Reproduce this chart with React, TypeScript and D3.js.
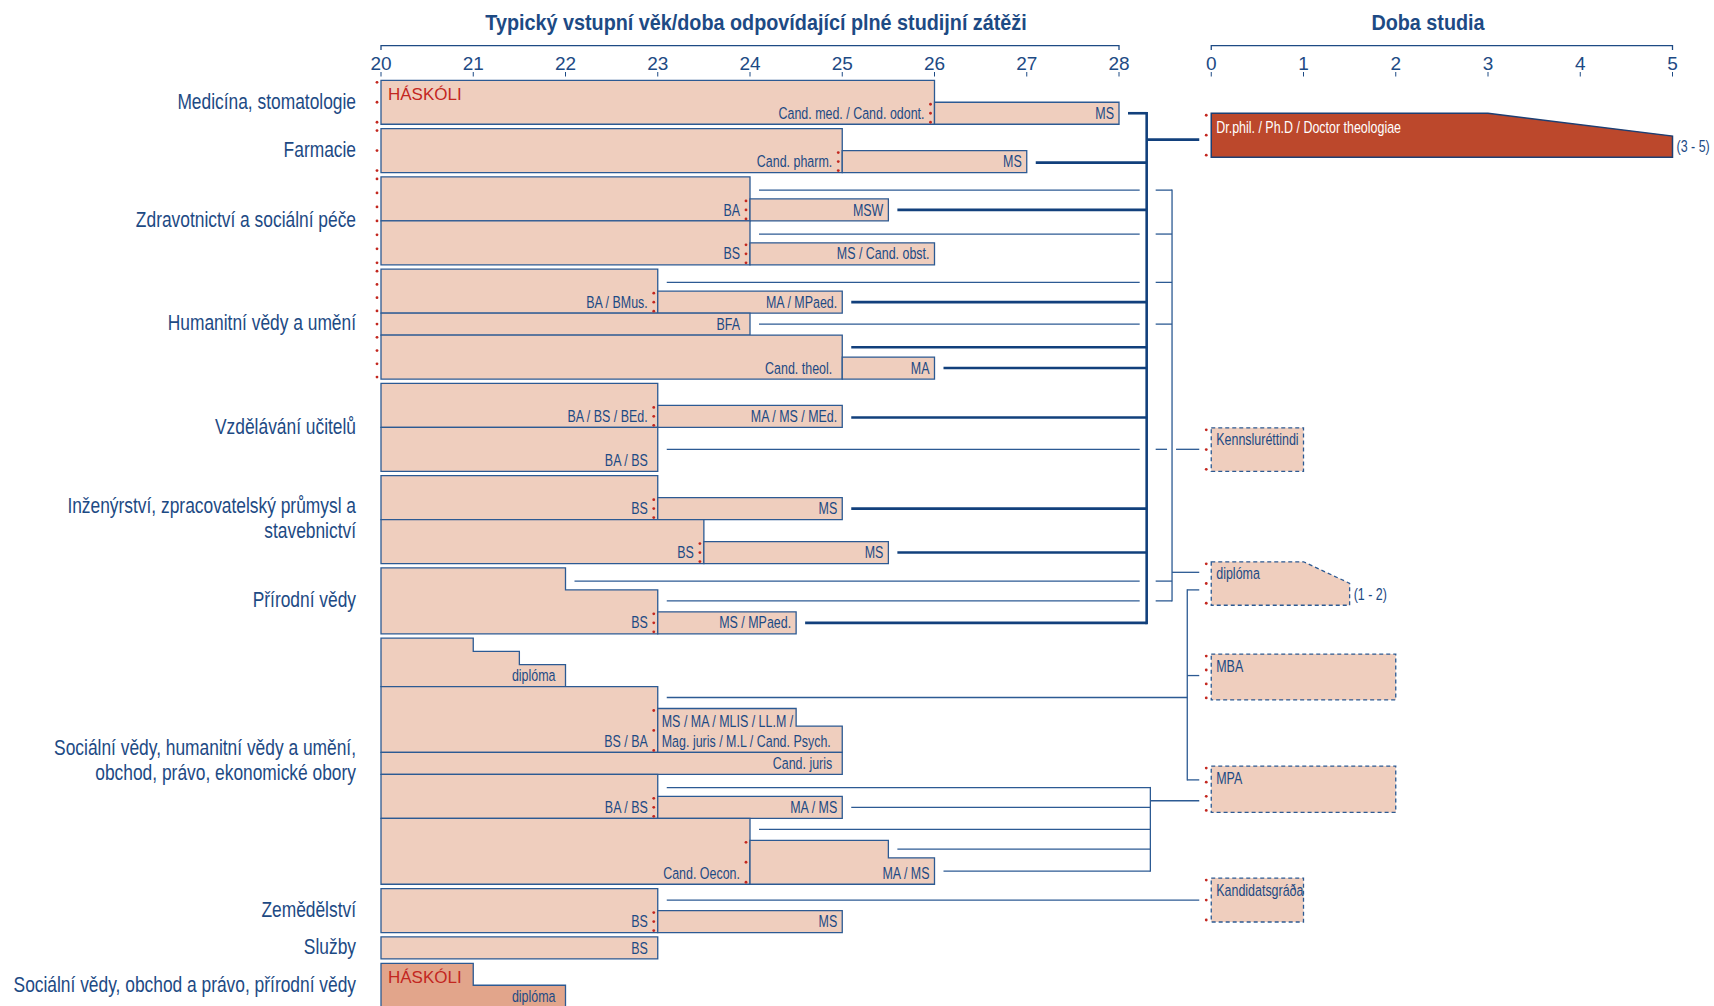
import React from "react";
import * as d3 from "d3";

const W = 1714;
const H = 1006;

// ages on the main axis; "Doba studia" axis starts where age 29 would be
const ageTicks = [20, 21, 22, 23, 24, 25, 26, 27, 28];
const durationTicks = [0, 1, 2, 3, 4, 5];
const durationOrigin = 29;

// fields of study, height in half-row slots
const fieldNames = [
  ["Medicína, stomatologie"],
  ["Farmacie"],
  ["Zdravotnictví a sociální péče"],
  ["Humanitní vědy a umění"],
  ["Vzdělávání učitelů"],
  ["Inženýrství, zpracovatelský průmysl a", "stavebnictví"],
  ["Přírodní vědy"],
  ["Sociální vědy, humanitní vědy a umění,", "obchod, právo, ekonomické obory"],
  ["Zemědělství"],
  ["Služby"],
  ["Sociální vědy, obchod a právo, přírodní vědy"],
];
const fieldSlots = [2, 2, 4, 5, 4, 4, 3, 11.2, 2, 1, 2];
const groupGap = 0.2;

// programmes: group, start age, stacked segments [slotFrom, slotTo, endAge]
const programmes = [
  { g: 0, x0: 20, segs: [[0, 2, 26]], label: ["Cand. med. / Cand. odont."], tag: "HÁSKÓLI" },
  { g: 0, x0: 26, segs: [[1, 2, 28]], label: ["MS"] },
  { g: 1, x0: 20, segs: [[0, 2, 25]], label: ["Cand. pharm."] },
  { g: 1, x0: 25, segs: [[1, 2, 27]], label: ["MS"] },
  { g: 2, x0: 20, segs: [[0, 2, 24]], label: ["BA"] },
  { g: 2, x0: 24, segs: [[1, 2, 25.5]], label: ["MSW"] },
  { g: 2, x0: 20, segs: [[2, 4, 24]], label: ["BS"] },
  { g: 2, x0: 24, segs: [[3, 4, 26]], label: ["MS / Cand. obst."] },
  { g: 3, x0: 20, segs: [[0, 2, 23]], label: ["BA / BMus."] },
  { g: 3, x0: 23, segs: [[1, 2, 25]], label: ["MA / MPaed."] },
  { g: 3, x0: 20, segs: [[2, 3, 24]], label: ["BFA"] },
  { g: 3, x0: 20, segs: [[3, 5, 25]], label: ["Cand. theol."] },
  { g: 3, x0: 25, segs: [[4, 5, 26]], label: ["MA"] },
  { g: 4, x0: 20, segs: [[0, 2, 23]], label: ["BA / BS / BEd."] },
  { g: 4, x0: 23, segs: [[1, 2, 25]], label: ["MA / MS / MEd."] },
  { g: 4, x0: 20, segs: [[2, 4, 23]], label: ["BA / BS"] },
  { g: 5, x0: 20, segs: [[0, 2, 23]], label: ["BS"] },
  { g: 5, x0: 23, segs: [[1, 2, 25]], label: ["MS"] },
  { g: 5, x0: 20, segs: [[2, 4, 23.5]], label: ["BS"] },
  { g: 5, x0: 23.5, segs: [[3, 4, 25.5]], label: ["MS"] },
  { g: 6, x0: 20, segs: [[0, 1, 22], [1, 3, 23]], label: ["BS"] },
  { g: 6, x0: 23, segs: [[2, 3, 24.5]], label: ["MS / MPaed."] },
  { g: 7, x0: 20, segs: [[0, 0.6, 21], [0.6, 1.2, 21.5], [1.2, 2.2, 22]], label: ["diplóma"] },
  { g: 7, x0: 20, segs: [[2.2, 5.2, 23]], label: ["BS / BA"] },
  { g: 7, x0: 23, segs: [[3.2, 4.0, 24.5], [4.0, 5.2, 25]], label: ["MS / MA / MLIS / LL.M /", "Mag. juris / M.L / Cand. Psych."], left: true },
  { g: 7, x0: 20, segs: [[5.2, 6.2, 25]], label: ["Cand. juris"] },
  { g: 7, x0: 20, segs: [[6.2, 8.2, 23]], label: ["BA / BS"] },
  { g: 7, x0: 23, segs: [[7.2, 8.2, 25]], label: ["MA / MS"] },
  { g: 7, x0: 20, segs: [[8.2, 11.2, 24]], label: ["Cand. Oecon."] },
  { g: 7, x0: 24, segs: [[9.2, 10.0, 25.5], [10.0, 11.2, 26]], label: ["MA / MS"] },
  { g: 8, x0: 20, segs: [[0, 2, 23]], label: ["BS"] },
  { g: 8, x0: 23, segs: [[1, 2, 25]], label: ["MS"] },
  { g: 9, x0: 20, segs: [[0, 1, 23]], label: ["BS"] },
  { g: 10, x0: 20, segs: [[0, 1, 21], [1, 2, 22]], label: ["diplóma"], tag: "HÁSKÓLI", dark: true },
];

// red dotted access marks: group, age, slotFrom, slotTo
const accessMarks = [
  [0, 20, 0, 2], [1, 20, 0, 2], [2, 20, 0, 4], [3, 20, 0, 5],
  [0, 26, 1, 2], [1, 25, 1, 2], [2, 24, 1, 2], [2, 24, 3, 4],
  [3, 23, 1, 2], [4, 23, 1, 2], [5, 23, 1, 2], [5, 23.5, 3, 4],
  [6, 23, 2, 3], [7, 23, 3.2, 5.2], [7, 23, 7.2, 8.2], [7, 24, 9.2, 11.2],
  [8, 23, 1, 2],
];

// further studies on the "Doba studia" axis (slot positions on the shared vertical scale)
const further = [
  { label: "Dr.phil. / Ph.D / Doctor theologiae", u0: 1.5, u1: 3.5, years: 5, taper: [3, 2.54], range: "(3 - 5)", doctoral: true },
  { label: "Kennsluréttindi", u0: 15.82, u1: 17.8, years: 1 },
  { label: "diplóma", u0: 21.92, u1: 23.9, years: 1.5, taper: [1, 22.9], range: "(1 - 2)" },
  { label: "MBA", u0: 26.12, u1: 28.21, years: 2 },
  { label: "MPA", u0: 31.22, u1: 33.33, years: 2 },
  { label: "Kandidatsgráða", u0: 36.32, u1: 38.32, years: 1 },
];

// collecting lines and their outlets
const hubs = [
  { id: "T", at: 28.3, thick: true, out: [{ u: 2.7, box: 0 }] },
  { id: "A", at: 28.575, thick: false, out: [{ u: 22.4, box: 2 }] },
  { id: "B", at: 28.74, thick: false, out: [{ u: 23.2, box: 2 }, { u: 27.1, box: 3 }, { u: 31.85, box: 4 }] },
  { id: "C", at: 28.34, thick: false, out: [{ u: 32.8, box: 4 }] },
];

// links: group, slot, age where line starts, target hub or box, crossings
const links = [
  { g: 0, s: 1.5, from: 28, to: "T" },
  { g: 1, s: 1.55, from: 27, to: "T" },
  { g: 2, s: 0.6, from: 24, to: "A", cross: ["T"] },
  { g: 2, s: 1.5, from: 25.5, to: "T" },
  { g: 2, s: 2.6, from: 24, to: "A", cross: ["T"] },
  { g: 3, s: 0.6, from: 23, to: "A", cross: ["T"] },
  { g: 3, s: 1.5, from: 25, to: "T" },
  { g: 3, s: 2.5, from: 24, to: "A", cross: ["T"] },
  { g: 3, s: 3.55, from: 25, to: "T" },
  { g: 3, s: 4.5, from: 26, to: "T" },
  { g: 4, s: 1.55, from: 25, to: "T" },
  { g: 4, s: 3.0, from: 23, box: 1, cross: ["T", "A"] },
  { g: 5, s: 1.5, from: 25, to: "T" },
  { g: 5, s: 3.5, from: 25.5, to: "T" },
  { g: 6, s: 0.6, from: 22, to: "A", cross: ["T"] },
  { g: 6, s: 1.5, from: 23, to: "A", cross: ["T"] },
  { g: 6, s: 2.5, from: 24.5, to: "T" },
  { g: 7, s: 2.7, from: 23, to: "B" },
  { g: 7, s: 6.8, from: 23, to: "C" },
  { g: 7, s: 7.7, from: 25, to: "C" },
  { g: 7, s: 8.7, from: 24, to: "C" },
  { g: 7, s: 9.6, from: 25.5, to: "C" },
  { g: 7, s: 10.6, from: 26, to: "C" },
  { g: 8, s: 0.52, from: 23, box: 5 },
];

const BLUE = "#1d4a84";
const LINE = "#2c5a93";
const FILL = "#efcebe";
const RED = "#c3271f";
const SANS = "'Liberation Sans', Arial, sans-serif";

// condensed text: the narrow faces are not installed, so squeeze horizontally
function NText({ x, y, anchor = "start", size, sx = 0.83, bold = false, fill = BLUE, children }: any) {
  return (
    <text
      transform={`translate(${x},${y}) scale(${sx},1)`}
      textAnchor={anchor}
      dominantBaseline="central"
      fontFamily={SANS}
      fontSize={size}
      fontWeight={bold ? "bold" : "normal"}
      fill={fill}
    >
      {children}
    </text>
  );
}

export default function App() {
  const x = d3.scaleLinear().domain([20, 34]).range([381, 1672.5]);
  const y = d3.scaleLinear().domain([0, 40.2]).range([80.3, 963.3]);

  const starts: number[] = [];
  fieldSlots.reduce((acc, n, i) => {
    starts[i] = acc;
    return acc + n + groupGap;
  }, 0);
  const gy = (g: number, s: number) => y(starts[g] + s);
  const dx = (d: number) => x(durationOrigin + d);
  const line = d3.line();
  const hubX = (id: string) => x(hubs.find((h) => h.id === id)!.at);
  const boxEnd = x(durationOrigin) - 12;

  const outline = (p: any) => {
    const pts: [number, number][] = [[x(p.x0), gy(p.g, p.segs[0][0])]];
    p.segs.forEach(([s0, s1, e]: number[]) => {
      pts.push([x(e), gy(p.g, s0)]);
      pts.push([x(e), gy(p.g, s1)]);
    });
    pts.push([x(p.x0), gy(p.g, p.segs[p.segs.length - 1][1])]);
    return line(pts) + "Z";
  };

  const dots = (cx: number, y0: number, y1: number, key: string) => {
    const n = Math.max(3, Math.floor((y1 - y0) / 11));
    return d3.range(n).map((i) => (
      <circle key={key + i} cx={cx} cy={y0 + 2 + ((y1 - y0 - 4) * i) / (n - 1)} r={1.4} fill={RED} />
    ));
  };

  // link segments with bridges where they pass a vertical connector
  const linkSegments = (l: any) => {
    const yy = gy(l.g, l.s);
    const x0 = x(l.from) + 9;
    const x1 = l.box !== undefined ? boxEnd : hubX(l.to);
    const cuts: [number, number][] = (l.cross || []).map((id: string) =>
      id === "T" ? [hubX(id) - 7, hubX(id) + 9] : [hubX(id) - 5, hubX(id) + 4]
    );
    const segs: [number, number][] = [];
    let cur = x0;
    cuts.forEach(([a, b]) => {
      segs.push([cur, a]);
      cur = b;
    });
    segs.push([cur, x1]);
    return segs.map((s) => ({ y: yy, x0: s[0], x1: s[1] }));
  };

  const hubLines = hubs.map((h) => {
    const us = links.filter((l) => l.to === h.id).map((l) => starts[l.g] + l.s).concat(h.out.map((o) => o.u));
    return { ...h, u0: d3.min(us)!, u1: d3.max(us)! };
  });

  return (
    <svg width={W} height={H} style={{ position: "absolute", left: 0, top: 0, background: "#fff" }}>
      {/* titles */}
      <NText x={756} y={22} anchor="middle" size={22} sx={0.9} bold>
        Typický vstupní věk/doba odpovídající plné studijní zátěži
      </NText>
      <NText x={1428} y={22} anchor="middle" size={22} sx={0.9} bold>
        Doba studia
      </NText>

      {/* axes */}
      {[
        { ticks: ageTicks, pos: (t: number) => x(t) },
        { ticks: durationTicks, pos: (t: number) => dx(t) },
      ].map((ax, i) => {
        const a = ax.pos(ax.ticks[0]);
        const b = ax.pos(ax.ticks[ax.ticks.length - 1]);
        return (
          <g key={"ax" + i}>
            <path d={`M${a},50V45.7H${b}V50`} fill="none" stroke={BLUE} strokeWidth={1.3} />
            {ax.ticks.map((t) => (
              <g key={t}>
                <text x={ax.pos(t)} y={63.5} textAnchor="middle" dominantBaseline="central" fontFamily={SANS} fontSize={19} fill={BLUE}>
                  {t}
                </text>
                <line x1={ax.pos(t)} x2={ax.pos(t)} y1={72} y2={76.5} stroke={BLUE} strokeWidth={1} />
              </g>
            ))}
          </g>
        );
      })}

      {/* field labels */}
      {fieldNames.map((lines, g) => {
        const cy = gy(g, fieldSlots[g] / 2) - 1.5;
        return (
          <g key={"f" + g}>
            {lines.map((t, i) => (
              <NText key={i} x={356} y={cy + (i - (lines.length - 1) / 2) * 25} anchor="end" size={22} sx={0.79}>
                {t}
              </NText>
            ))}
          </g>
        );
      })}

      {/* programmes */}
      {programmes.map((p, i) => (
        <path key={"p" + i} d={outline(p)} fill={p.dark ? "#e2a58b" : FILL} stroke={LINE} strokeWidth={1.3} />
      ))}
      {programmes.map((p, i) => {
        const last = p.segs[p.segs.length - 1];
        const cy = gy(p.g, last[1] - 0.5);
        const main = p.x0 === 20;
        return (
          <g key={"pl" + i}>
            {p.label.map((t, j) => (
              <NText
                key={j}
                x={p.left ? x(p.x0) + 4 : x(last[2]) - (main ? 10 : 5)}
                y={cy - (p.label.length - 1 - j) * 20}
                anchor={p.left ? "start" : "end"}
                size={16.5}
                sx={0.755}
              >
                {t}
              </NText>
            ))}
            {p.tag && (
              <text x={x(p.x0) + 7} y={gy(p.g, p.segs[0][0]) + 20} fontFamily={SANS} fontSize={17} fill={RED}>
                {p.tag}
              </text>
            )}
          </g>
        );
      })}
      {accessMarks.map(([g, age, s0, s1], i) => dots(x(age) - 4, gy(g, s0), gy(g, s1), "m" + i))}

      {/* further studies */}
      {further.map((f, i) => {
        const pts: [number, number][] = f.taper
          ? [[dx(0), y(f.u0)], [dx(f.taper[0]), y(f.u0)], [dx(f.years), y(f.taper[1])], [dx(f.years), y(f.u1)], [dx(0), y(f.u1)]]
          : [[dx(0), y(f.u0)], [dx(f.years), y(f.u0)], [dx(f.years), y(f.u1)], [dx(0), y(f.u1)]];
        return (
          <g key={"fs" + i}>
            <path
              d={line(pts) + "Z"}
              fill={f.doctoral ? "#bc482c" : FILL}
              stroke={f.doctoral ? "#1d3f73" : LINE}
              strokeWidth={f.doctoral ? 1.5 : 1.3}
              strokeDasharray={f.doctoral ? undefined : "4 3"}
            />
            <NText x={dx(0) + 5} y={y(f.u0) + (f.doctoral ? 14 : 12)} size={16.5} sx={0.755} fill={f.doctoral ? "#fff" : BLUE}>
              {f.label}
            </NText>
            {f.range && (
              <NText x={dx(f.years) + 4} y={y((f.taper![1] + f.u1) / 2)} size={16.5} sx={0.755}>
                {f.range}
              </NText>
            )}
            {dots(dx(0) - 5, y(f.u0), y(f.u1), "fd" + i)}
          </g>
        );
      })}

      {/* connectors */}
      {links.flatMap((l, i) =>
        linkSegments(l).map((s, j) => (
          <line
            key={"l" + i + "-" + j}
            x1={s.x0}
            x2={s.x1}
            y1={s.y}
            y2={s.y}
            stroke={l.to === "T" ? "#12407c" : LINE}
            strokeWidth={l.to === "T" ? 2.6 : 1.3}
          />
        ))
      )}
      {hubLines.map((h) => (
        <g key={"h" + h.id}>
          <line x1={x(h.at)} x2={x(h.at)} y1={y(h.u0)} y2={y(h.u1)} stroke={h.thick ? "#12407c" : LINE} strokeWidth={h.thick ? 2.6 : 1.3} strokeLinecap="square" />
          {h.out.map((o, j) => (
            <line key={j} x1={x(h.at)} x2={boxEnd} y1={y(o.u)} y2={y(o.u)} stroke={h.thick ? "#12407c" : LINE} strokeWidth={h.thick ? 2.6 : 1.3} />
          ))}
        </g>
      ))}
    </svg>
  );
}
